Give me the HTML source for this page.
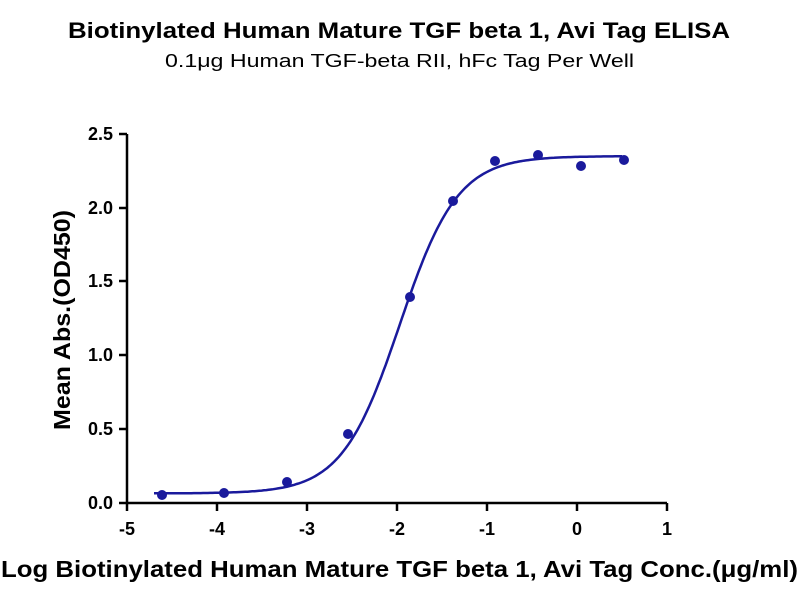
<!DOCTYPE html>
<html><head><meta charset="utf-8"><style>body{margin:0;background:#fff}svg{display:block}</style></head><body>
<svg id="s" width="800" height="600" xmlns="http://www.w3.org/2000/svg" font-family="Liberation Sans, Arial, sans-serif">
<rect width="800" height="600" fill="#fff"/>
<text x="68" y="38" textLength="662" lengthAdjust="spacingAndGlyphs" font-size="22" font-weight="bold">Biotinylated Human Mature TGF beta 1, Avi Tag ELISA</text>
<text x="165" y="67" textLength="469" lengthAdjust="spacingAndGlyphs" font-size="18">0.1μg Human TGF-beta RII, hFc Tag Per Well</text>
<g stroke="#000" stroke-width="2.5" fill="none">
<line x1="127" y1="134" x2="127" y2="504"/>
<line x1="126" y1="503" x2="667" y2="503"/>
<line x1="119" y1="503" x2="127" y2="503"/><line x1="119" y1="429" x2="127" y2="429"/><line x1="119" y1="355" x2="127" y2="355"/><line x1="119" y1="281" x2="127" y2="281"/><line x1="119" y1="208" x2="127" y2="208"/><line x1="119" y1="134" x2="127" y2="134"/>
<line x1="127" y1="503" x2="127" y2="511"/><line x1="217" y1="503" x2="217" y2="511"/><line x1="307" y1="503" x2="307" y2="511"/><line x1="397" y1="503" x2="397" y2="511"/><line x1="487" y1="503" x2="487" y2="511"/><line x1="577" y1="503" x2="577" y2="511"/><line x1="667" y1="503" x2="667" y2="511"/>
</g>
<g font-size="18" font-weight="bold" text-anchor="end">
<text x="113" y="509">0.0</text><text x="113" y="435">0.5</text><text x="113" y="361">1.0</text><text x="113" y="287">1.5</text><text x="113" y="214">2.0</text><text x="113" y="140">2.5</text>
</g>
<g font-size="18" font-weight="bold" text-anchor="middle">
<text x="127" y="535">-5</text><text x="217" y="535">-4</text><text x="307" y="535">-3</text><text x="397" y="535">-2</text><text x="487" y="535">-1</text><text x="577" y="535">0</text><text x="667" y="535">1</text>
</g>
<text transform="translate(70,430) rotate(-90)" textLength="220" lengthAdjust="spacingAndGlyphs" font-size="23" font-weight="bold">Mean Abs.(OD450)</text>
<text x="1" y="577" textLength="797" lengthAdjust="spacingAndGlyphs" font-size="23" font-weight="bold">Log Biotinylated Human Mature TGF beta 1, Avi Tag Conc.(μg/ml)</text>
<path id="c" fill="none" stroke="#1a1a9c" stroke-width="2.5"/>
<g fill="#1a1a9c">
<circle cx="162" cy="495" r="5"/><circle cx="224" cy="493" r="5"/><circle cx="287" cy="482" r="5"/><circle cx="348" cy="434" r="5"/><circle cx="410" cy="297" r="5"/><circle cx="453" cy="201" r="5"/><circle cx="495" cy="161" r="5"/><circle cx="538" cy="155" r="5"/><circle cx="581" cy="166" r="5"/><circle cx="624" cy="160" r="5"/>
</g>
</svg>
<script>
var d="";for(var i=0;i<=200;i++){var x=-4.7+5.2*i/200;var v=0.065+(2.35-0.065)/(1+Math.pow(10,(-1.97-x)*1.35));var px=127+(x+5)*90,py=503-v*147.6;d+=(i?"L":"M")+px.toFixed(1)+","+py.toFixed(1);}
document.getElementById("c").setAttribute("d",d);
</script>
</body></html>
